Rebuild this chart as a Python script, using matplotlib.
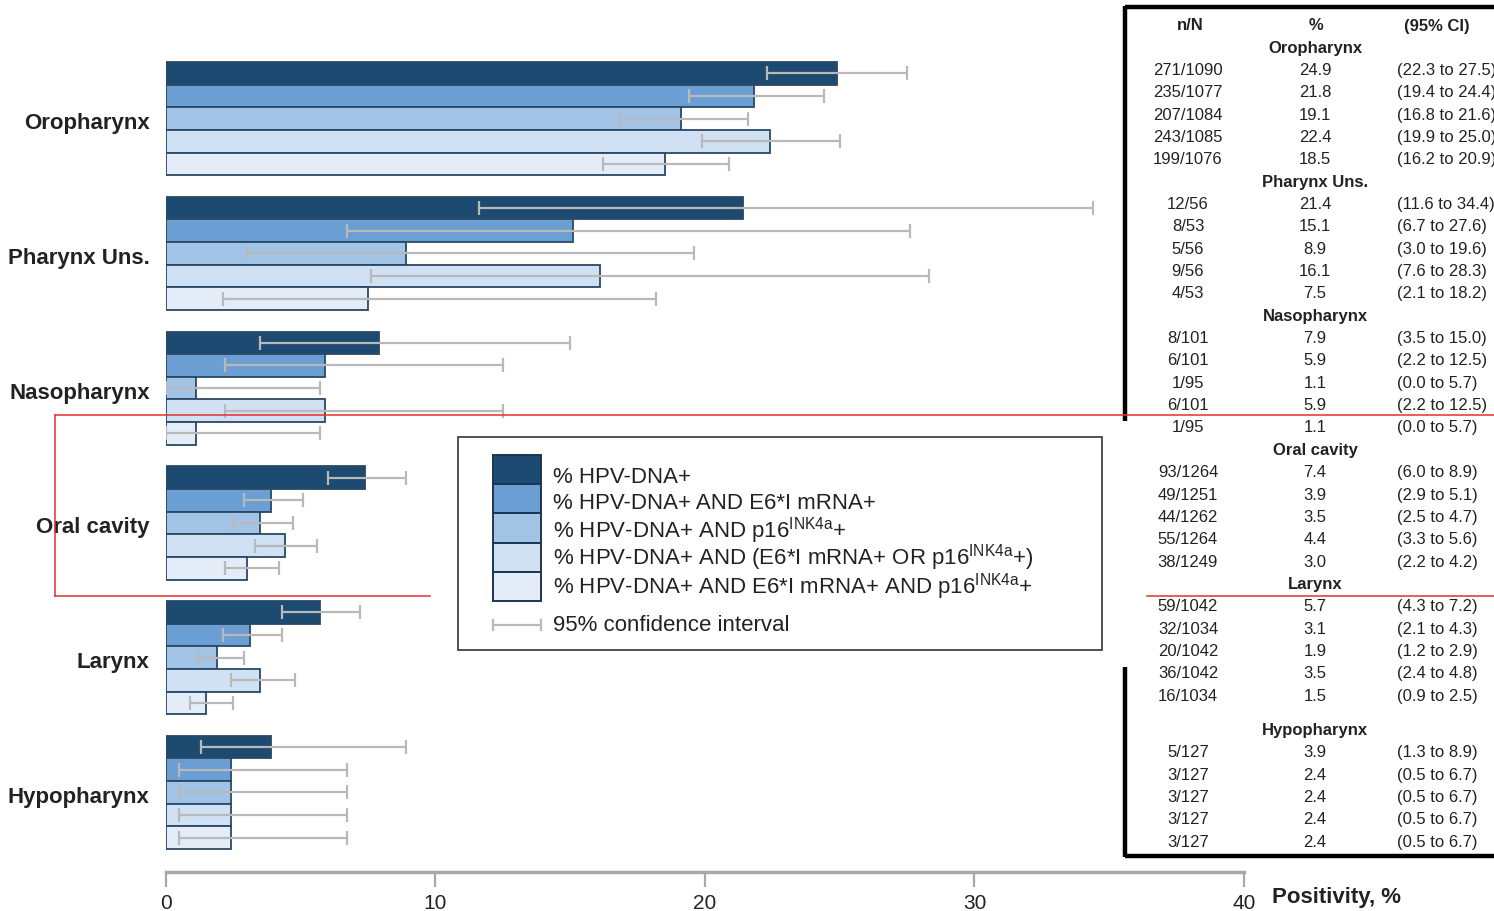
import numpy as np
import matplotlib.pyplot as plt
from matplotlib.patches import Rectangle

plt.rcParams['font.family'] = ['Liberation Sans', 'DejaVu Sans']
plt.rcParams['mathtext.fontset'] = 'custom'
plt.rcParams['mathtext.rm'] = 'Liberation Sans'

# ---- data ----
sites = ['Oropharynx', 'Pharynx Uns.', 'Nasopharynx', 'Oral cavity', 'Larynx', 'Hypopharynx']
markers = ['% HPV-DNA+',
           '% HPV-DNA+ AND E6*I mRNA+',
           '% HPV-DNA+ AND p16$^{\\mathregular{INK4a}}$+',
           '% HPV-DNA+ AND (E6*I mRNA+ OR p16$^{\\mathregular{INK4a}}$+)',
           '% HPV-DNA+ AND E6*I mRNA+ AND p16$^{\\mathregular{INK4a}}$+']
pct = [[24.9, 21.8, 19.1, 22.4, 18.5],
       [21.4, 15.1, 8.9, 16.1, 7.5],
       [7.9, 5.9, 1.1, 5.9, 1.1],
       [7.4, 3.9, 3.5, 4.4, 3.0],
       [5.7, 3.1, 1.9, 3.5, 1.5],
       [3.9, 2.4, 2.4, 2.4, 2.4]]
ci_lo = [[22.3, 19.4, 16.8, 19.9, 16.2],
         [11.6, 6.7, 3.0, 7.6, 2.1],
         [3.5, 2.2, 0.0, 2.2, 0.0],
         [6.0, 2.9, 2.5, 3.3, 2.2],
         [4.3, 2.1, 1.2, 2.4, 0.9],
         [1.3, 0.5, 0.5, 0.5, 0.5]]
ci_hi = [[27.5, 24.4, 21.6, 25.0, 20.9],
         [34.4, 27.6, 19.6, 28.3, 18.2],
         [15.0, 12.5, 5.7, 12.5, 5.7],
         [8.9, 5.1, 4.7, 5.6, 4.2],
         [7.2, 4.3, 2.9, 4.8, 2.5],
         [8.9, 6.7, 6.7, 6.7, 6.7]]
n_N = [['271/1090', '235/1077', '207/1084', '243/1085', '199/1076'],
       ['12/56', '8/53', '5/56', '9/56', '4/53'],
       ['8/101', '6/101', '1/95', '6/101', '1/95'],
       ['93/1264', '49/1251', '44/1262', '55/1264', '38/1249'],
       ['59/1042', '32/1034', '20/1042', '36/1042', '16/1034'],
       ['5/127', '3/127', '3/127', '3/127', '3/127']]
xticks = [0, 10, 20, 30, 40]

colors = ['#1d4a70', '#6b9fd3', '#a1c4e6', '#d0e1f3', '#e3ecf7']
edge = '#2a4866'
ci_col = '#b9b9b9'
txt = '#222222'

pct = np.array(pct)
ci_lo = np.array(ci_lo)
ci_hi = np.array(ci_hi)

W, H = 1494, 912
fig = plt.figure(figsize=(W / 100, H / 100), dpi=100)

# pixel geometry of the plot
x0_px, x40_px = 166, 1244
axis_px = 873
top_px = 63
bar_px = 22.65
pitch = 134.75 / bar_px

ax = fig.add_axes([x0_px / W, (H - axis_px) / H, (x40_px - x0_px) / W, axis_px / H])
ax.set_xlim(0, 40)
ax.set_ylim((axis_px - top_px) / bar_px, -top_px / bar_px)

gpos = np.arange(len(sites)) * pitch
for j in range(5):
    y = gpos + j + 0.5
    ax.barh(y, pct[:, j], height=1.0, color=colors[j], edgecolor=edge, linewidth=1.3, zorder=2)
    ax.errorbar(pct[:, j], y, xerr=[pct[:, j] - ci_lo[:, j], ci_hi[:, j] - pct[:, j]],
                fmt='none', ecolor=ci_col, elinewidth=1.6, capsize=5, capthick=1.6, zorder=3)

# site names, a little below the group centre
for g, name in enumerate(sites):
    ax.text(-0.6, gpos[g] + 2.68, name, ha='right', va='center', fontsize=16,
            fontweight='bold', color=txt, clip_on=False)

for s in ['left', 'top', 'right']:
    ax.spines[s].set_visible(False)
ax.spines['bottom'].set_color('#a8a8a8')
ax.spines['bottom'].set_linewidth(2.5)
ax.set_yticks([])
ax.set_xticks(xticks)
ax.set_xticklabels([str(t) for t in xticks])
ax.tick_params(axis='x', direction='out', length=11, width=1.6, color='#a8a8a8',
               pad=4, labelsize=15, labelcolor=txt)
ax.patch.set_alpha(0)

# ---- overlay in pixel coordinates ----
ov = fig.add_axes([0, 0, 1, 1])
ov.set_xlim(0, W)
ov.set_ylim(H, 0)
ov.axis('off')

ov.text(1272, 898, 'Positivity, %', fontsize=16, fontweight='bold', color=txt,
        ha='left', va='center')

# legend
ov.add_patch(Rectangle((458, 438), 644, 213, facecolor='white', edgecolor='#333333', lw=1.2))
text_y = [478, 504, 531, 558, 587]
for j in range(5):
    ov.add_patch(Rectangle((493, 456 + 29.2 * j), 48, 29.2, facecolor=colors[j],
                           edgecolor='#1e3550', lw=1.4))
    ov.text(553, text_y[j], markers[j], fontsize=16, color=txt, ha='left', va='center')
ov.plot([493, 541], [626, 626], color=ci_col, lw=1.6)
ov.plot([493, 493], [621, 631], color=ci_col, lw=1.6)
ov.plot([541, 541], [621, 631], color=ci_col, lw=1.6)
ov.text(553, 626, '95% confidence interval', fontsize=16, color=txt, ha='left', va='center')

# table
ov.text(1190, 26, 'n/N', fontsize=12, fontweight='bold', color=txt, ha='center', va='center')
ov.text(1316, 26, '%', fontsize=12, fontweight='bold', color=txt, ha='center', va='center')
ov.text(1437, 26, '(95% CI)', fontsize=12, fontweight='bold', color=txt, ha='center', va='center')
step = 22.35
yy = 48
for g, name in enumerate(sites):
    if name == 'Hypopharynx':
        yy += 12
    ov.text(1315, yy, name, fontsize=12, fontweight='bold', color=txt, ha='center', va='center')
    yy += step
    for j in range(5):
        ov.text(1188, yy, n_N[g][j], fontsize=12, color=txt, ha='center', va='center')
        ov.text(1315, yy, f'{pct[g, j]:.1f}', fontsize=12, color=txt, ha='center', va='center')
        ov.text(1397, yy, f'({ci_lo[g, j]:.1f} to {ci_hi[g, j]:.1f})', fontsize=12,
                color=txt, ha='left', va='center')
        yy += step

tb = dict(color='black', lw=3.2, solid_capstyle='butt')
ov.plot([1125, W], [8, 8], **tb)
ov.plot([1125, W], [857, 857], **tb)
ov.plot([1125, 1125], [7, 422], **tb)
ov.plot([1125, 1125], [668, 858], **tb)

# red highlight box
rl = dict(color='#e5302b', lw=1.1)
ov.plot([55, W], [416, 416], **rl)
ov.plot([55, 55], [416, 597], **rl)
ov.plot([55, 430], [597, 597], **rl)
ov.plot([1147, W], [597, 597], **rl)

fig.savefig('out.png', dpi=100)
